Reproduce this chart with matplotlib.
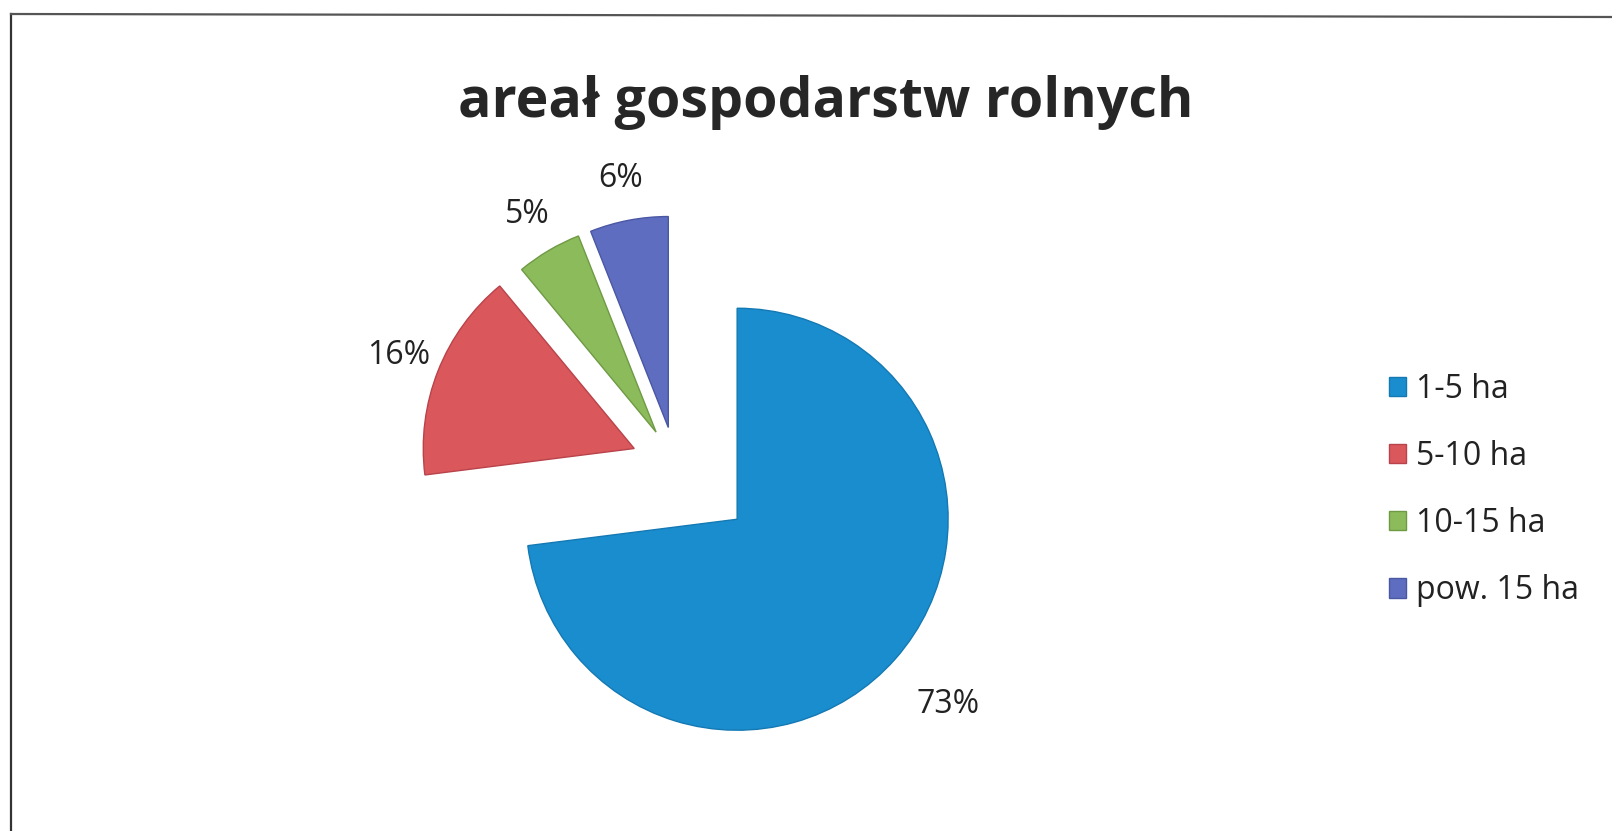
import numpy as np
import matplotlib.pyplot as plt
from matplotlib.lines import Line2D

# dane wykresu
kategorie = ['1-5 ha', '5-10 ha', '10-15 ha', 'pow. 15 ha']
udzialy = [73, 16, 5, 6]
kolory = ['#1a8dcf', '#da575c', '#8cbb5c', '#5f6dc0']
obwodki = ['#1479b3', '#b9434a', '#6f9a44', '#4a57a3']
wysuniecie = [0.39, 0.21, 0.18, 0.18]
odl_etykiet = [1.33, 1.2, 1.2, 1.2]

plt.rcParams['font.family'] = ['Open Sans', 'DejaVu Sans']

W, H = 1612, 831
fig = plt.figure(figsize=(W / 100, H / 100), dpi=100)
fig.patch.set_facecolor('white')

# os kolowa (kwadratowa w pikselach)
ax = fig.add_axes([0.1965, 0.009, 0.445, 0.8633])
wedges, texts, autotexts = ax.pie(
    udzialy, explode=wysuniecie, colors=kolory, startangle=90,
    counterclock=False, autopct='%1.0f%%', pctdistance=1.2,
    wedgeprops=dict(linewidth=1.0),
    textprops=dict(fontsize=23, color='#222222'))
for w, c in zip(wedges, obwodki):
    w.set_edgecolor(c)
# etykiety procentowe - odleglosc dla kazdego wycinka
for w, t, d in zip(wedges, autotexts, odl_etykiet):
    th = np.deg2rad((w.theta1 + w.theta2) / 2)
    t.set_position((w.center[0] + d * np.cos(th), w.center[1] + d * np.sin(th)))
ax.set_xlim(-1.7, 1.7)
ax.set_ylim(-1.7, 1.7)
ax.axis('off')

# tytul
fig.text(826 / W, 1 - 102 / H, 'areał gospodarstw rolnych', ha='center', va='center',
         fontsize=40, fontweight='bold', color='#262626')

# legenda
ax.legend(wedges, kategorie, loc='center left',
          bbox_to_anchor=(1360 / W, 1 - 490 / H), bbox_transform=fig.transFigure,
          frameon=False, fontsize=23, handlelength=0.55, handleheight=0.55,
          handletextpad=0.3, labelspacing=1.07, labelcolor='#222222')

# ramka (lewa i gorna krawedz)
fig.add_artist(Line2D([11 / W, 11 / W], [0, 1 - 14 / H], transform=fig.transFigure,
                      color='#333333', lw=1.6))
fig.add_artist(Line2D([11 / W, 1], [1 - 14 / H, 1 - 17 / H], transform=fig.transFigure,
                      color='#555555', lw=1.6))

plt.savefig('out.png', dpi=100)
plt.close()
